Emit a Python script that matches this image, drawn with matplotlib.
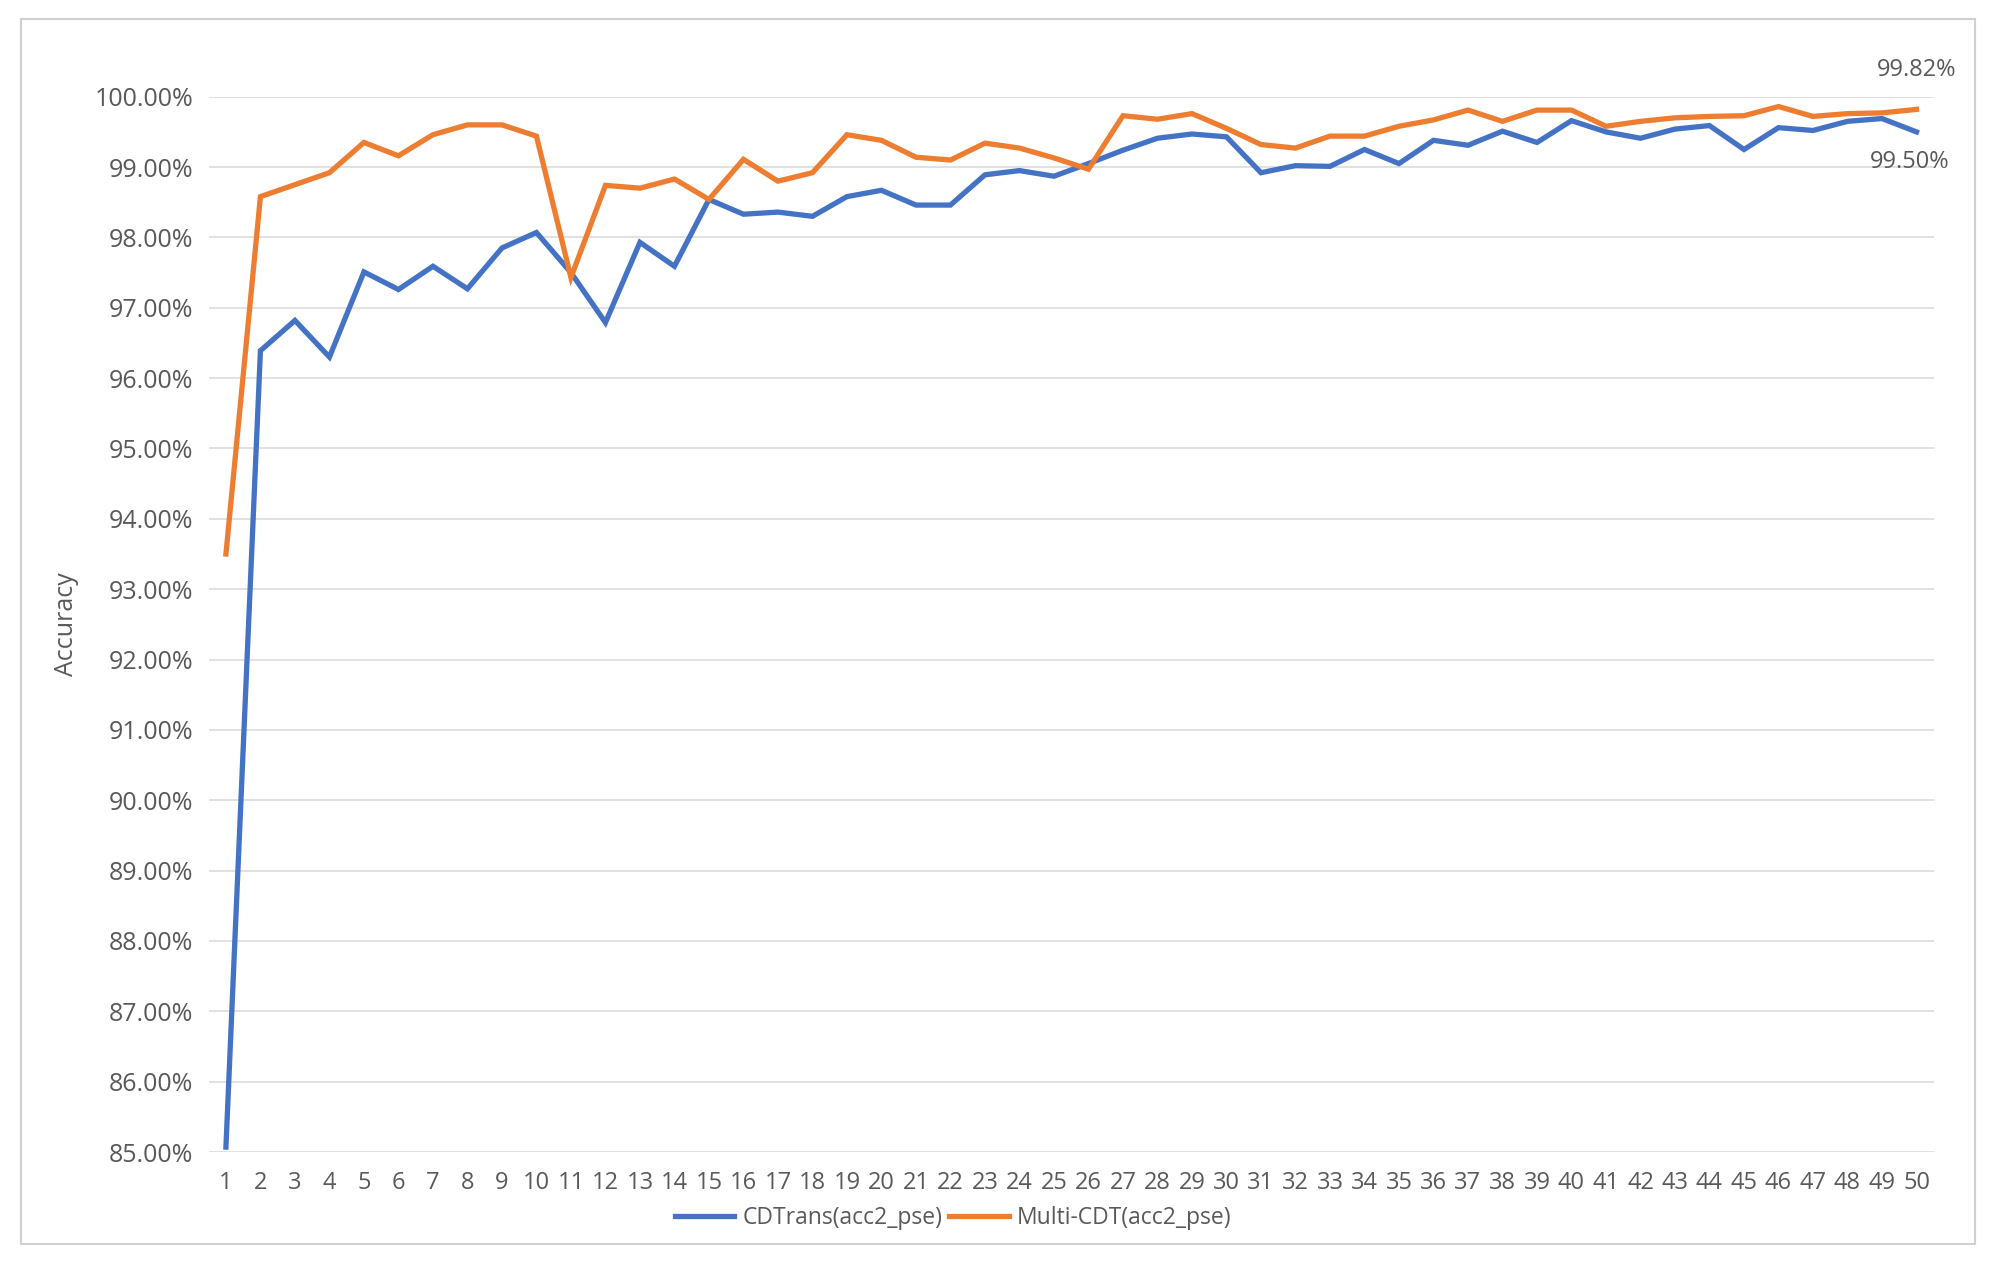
import matplotlib
matplotlib.use('Agg')
import matplotlib.pyplot as plt
from matplotlib import font_manager
from matplotlib.patches import Rectangle
from matplotlib.ticker import FuncFormatter

epochs = list(range(1, 51))
cdtrans = [85.07, 96.39, 96.82, 96.30, 97.51, 97.26, 97.59, 97.27, 97.85, 98.07,
           97.50, 96.79, 97.93, 97.59, 98.54, 98.33, 98.36, 98.30, 98.58, 98.67,
           98.46, 98.46, 98.89, 98.95, 98.87, 99.05, 99.24, 99.41, 99.47, 99.43,
           98.92, 99.02, 99.01, 99.25, 99.05, 99.38, 99.31, 99.51, 99.35, 99.66,
           99.50, 99.41, 99.54, 99.59, 99.25, 99.56, 99.52, 99.65, 99.69, 99.50]
multi_cdt = [93.50, 98.58, 98.75, 98.92, 99.35, 99.16, 99.46, 99.60, 99.60, 99.44,
             97.43, 98.74, 98.70, 98.83, 98.54, 99.11, 98.80, 98.92, 99.46, 99.38,
             99.14, 99.10, 99.34, 99.27, 99.13, 98.97, 99.73, 99.68, 99.76, 99.55,
             99.32, 99.27, 99.44, 99.44, 99.58, 99.67, 99.81, 99.65, 99.81, 99.81,
             99.58, 99.65, 99.70, 99.72, 99.73, 99.86, 99.72, 99.76, 99.77, 99.82]
series_names = ['CDTrans(acc2_pse)', 'Multi-CDT(acc2_pse)']

# narrow font for the category axis and legend, if we have it
names = {f.name for f in font_manager.fontManager.ttflist}
if 'Liberation Sans Narrow' in names:
    narrow, xsize, lsize = 'Liberation Sans Narrow', 19, 19
else:
    narrow, xsize, lsize = 'Open Sans', 17, 16.5

grey = '#595959'
blue = '#4472C4'
orange = '#ED7D31'

plt.rcParams['font.family'] = ['Open Sans', 'DejaVu Sans']

fig = plt.figure(figsize=(19.95, 12.71), dpi=100)
fig.patches.append(Rectangle((0.0105, 0.0212), 0.9794, 0.9638, transform=fig.transFigure,
                             fill=False, edgecolor='#D0D0D0', linewidth=1.5))
ax = fig.add_axes([0.1046, 0.0936, 0.8647, 0.8303])

ax.plot(epochs, cdtrans, color=blue, linewidth=3.8, label=series_names[0],
        solid_joinstyle='miter', clip_on=False, zorder=3)
ax.plot(epochs, multi_cdt, color=orange, linewidth=3.8, label=series_names[1],
        solid_joinstyle='miter', clip_on=False, zorder=3)

ax.set_xlim(0.5, 50.5)
ax.set_ylim(85, 100)
ax.set_yticks(range(85, 101))
ax.yaxis.set_major_formatter(FuncFormatter(lambda v, p: '%.2f%%' % v))
ax.set_xticks(epochs)
ax.set_xticklabels([str(e) for e in epochs], family=[narrow, 'DejaVu Sans'], fontsize=xsize)

ax.grid(axis='y', color='#D9D9D9', linewidth=1.1)
ax.set_axisbelow(True)
for s in ax.spines.values():
    s.set_visible(False)
ax.tick_params(axis='both', length=0, colors=grey)
ax.tick_params(axis='y', labelsize=18, pad=11)
ax.tick_params(axis='x', pad=14)

ax.set_ylabel('Accuracy', fontsize=18, color=grey, labelpad=11)

ax.annotate('%.2f%%' % multi_cdt[-1], (epochs[-1], multi_cdt[-1]), xytext=(0, 28),
            textcoords='offset points', ha='center', va='center', fontsize=17, color=grey)
ax.annotate('%.2f%%' % cdtrans[-1], (epochs[-1], cdtrans[-1]), xytext=(-5, -22),
            textcoords='offset points', ha='center', va='center', fontsize=17, color=grey)

leg = fig.legend(loc='center', bbox_to_anchor=(0.4777, 0.0415), ncol=2, frameon=False,
                 prop={'family': [narrow, 'DejaVu Sans'], 'size': lsize},
                 handlelength=2.6, handletextpad=0.35, columnspacing=0.3,
                 borderpad=0, borderaxespad=0)
for t in leg.get_texts():
    t.set_color(grey)

plt.savefig('out.png', dpi=100)
plt.close()
